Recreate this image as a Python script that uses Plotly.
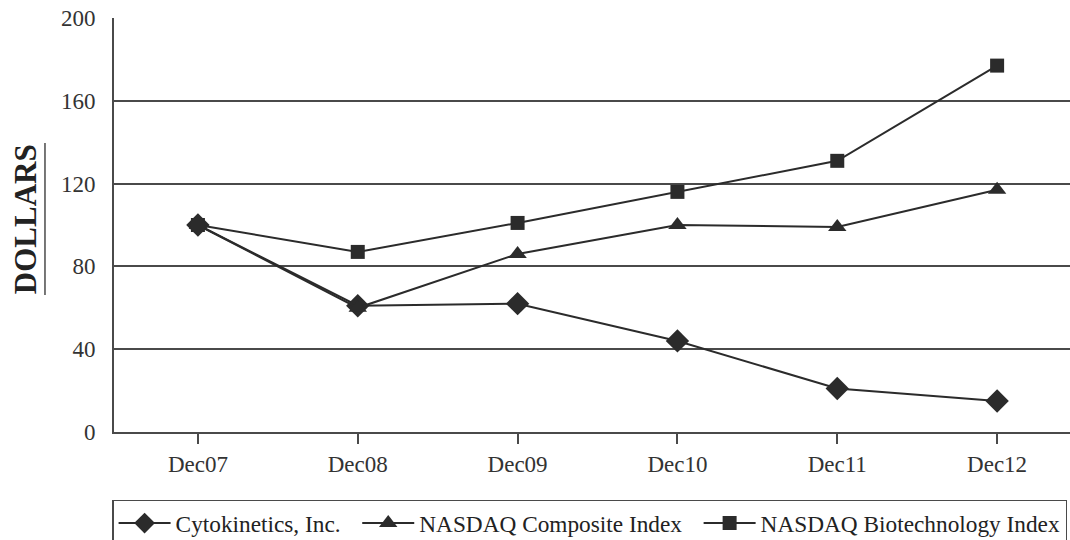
import plotly.graph_objects as go

years = ["Dec07", "Dec08", "Dec09", "Dec10", "Dec11", "Dec12"]
cytokinetics = [100, 61, 62, 44, 21, 15]
nasdaq_composite = [100, 60, 86, 100, 99, 117]
nasdaq_biotech = [100, 87, 101, 116, 131, 177]
y_ticks = [0, 40, 80, 120, 160, 200]
names = ["Cytokinetics, Inc.", "NASDAQ Composite Index", "NASDAQ Biotechnology Index"]

ink = "#2b2b2b"
axis_col = "#4a4a4a"
serif = "Liberation Serif"
nb = "\u00a0"
fig = go.Figure()
series = [
    (names[0] + nb * 2, cytokinetics, "diamond", 18),
    (names[1] + nb * 2, nasdaq_composite, "triangle-up", 16),
    (names[2], nasdaq_biotech, "square", 14),
]
for name, vals, sym, sz in series:
    fig.add_trace(go.Scatter(
        x=years, y=vals, name=name, mode="lines+markers",
        line=dict(color=ink, width=2),
        marker=dict(symbol=sym, size=sz, color=ink),
    ))

fig.update_layout(
    width=1070, height=550,
    margin=dict(l=114, r=0, t=18, b=118),
    plot_bgcolor="white", paper_bgcolor="white",
    showlegend=True,
    legend=dict(
        orientation="h", x=-0.002, y=-0.164, xanchor="left", yanchor="top",
        bordercolor=axis_col, borderwidth=1.5, itemwidth=52,
        font=dict(family=serif, size=23.3, color="#222"),
        traceorder="normal",
    ),
    xaxis=dict(
        type="category", range=[-0.525, 5.456], automargin=False,
        showgrid=False, showline=True, linecolor=axis_col, linewidth=2,
        ticks="outside", ticklen=10, tickcolor=axis_col, tickwidth=2,
        tickfont=dict(family=serif, size=23, color="#333"),
    ),
    yaxis=dict(
        range=[0, 200], tickvals=y_ticks, automargin=False,
        showgrid=True, gridcolor=axis_col, gridwidth=2,
        showline=True, linecolor=axis_col, linewidth=2,
        ticks="", ticklabelstandoff=12,
        tickfont=dict(family=serif, size=23, color="#333"),
        zeroline=False,
    ),
)
fig.add_annotation(
    text="<b>DOLLARS</b>", textangle=-90, showarrow=False,
    xref="paper", yref="paper", x=-0.0931, y=0.514,
    xanchor="center", yanchor="middle",
    font=dict(family=serif, size=31, color="#222"),
)
fig.add_shape(type="line", xref="paper", yref="paper",
              x0=-0.0722, x1=-0.0722, y0=0.331, y1=0.698,
              line=dict(color=axis_col, width=1.5))
fig.write_html(
    "out.html",
    config={"displayModeBar": False},
    post_script="document.body.style.margin='0';document.body.style.overflow='hidden';",
)
